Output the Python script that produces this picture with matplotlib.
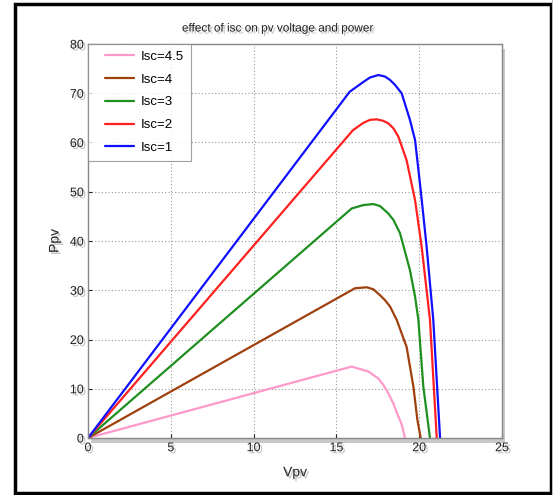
import matplotlib
matplotlib.use("Agg")
import matplotlib.pyplot as plt
import matplotlib.patheffects as pe
from matplotlib.patches import Rectangle
from matplotlib.legend_handler import HandlerLine2D

# Data (Vpv, Ppv)
v_isc45 = [0, 15.92, 16.93, 17.53, 17.83, 18.13, 18.44, 18.64, 18.94, 19.14]
p_isc45 = [0, 14.5, 13.5, 12.1, 10.8, 9.1, 7.0, 5.2, 2.8, 0]

v_isc4 = [0, 16.12, 16.83, 17.23, 17.63, 17.93, 18.24, 18.64, 19.24, 19.65, 19.89, 20.09]
p_isc4 = [0, 30.4, 30.6, 30.2, 29.0, 28.0, 26.7, 24.0, 18.5, 10.4, 3.7, 0]

v_isc3 = [0, 15.92, 16.63, 17.23, 17.63, 18.13, 18.44, 18.84, 19.44, 19.75, 19.95, 20.25, 20.65]
p_isc3 = [0, 46.6, 47.3, 47.5, 47.1, 45.6, 44.3, 41.6, 34.1, 28.7, 24.0, 10.4, 0]

v_isc2 = [0, 16.0, 16.63, 17.03, 17.43, 17.83, 18.13, 18.44, 18.74, 19.24, 19.75, 20.15, 20.65, 21.06]
p_isc2 = [0, 62.5, 64.0, 64.6, 64.7, 64.4, 63.9, 62.9, 61.2, 56.4, 48.3, 38.8, 24.0, 0]

v_isc1 = [0, 15.8, 16.63, 17.03, 17.53, 17.93, 18.24, 18.54, 18.94, 19.44, 19.75, 20.1, 20.45, 20.85, 21.26]
p_isc1 = [0, 70.3, 72.3, 73.2, 73.7, 73.4, 72.7, 71.7, 70.0, 64.6, 60.5, 50.0, 38.8, 24.0, 0]

labels = ["Isc=4.5", "Isc=4", "Isc=3", "Isc=2", "Isc=1"]
colors = ["#ff99cc", "#a0400f", "#1f8f1f", "#ff2020", "#1010ff"]

x_ticks = [0, 5, 10, 15, 20, 25]
y_ticks = [0, 10, 20, 30, 40, 50, 60, 70, 80]

plt.rcParams['font.family'] = ['Liberation Sans', 'DejaVu Sans']


class ShortLineHandler(HandlerLine2D):
    def create_artists(self, legend, orig_handle, xdescent, ydescent,
                       width, height, fontsize, trans):
        arts = super().create_artists(legend, orig_handle, xdescent, ydescent,
                                      width, height, fontsize, trans)
        line = arts[0]
        xd = list(line.get_xdata())
        yd = list(line.get_ydata())
        x0, x1 = xd[0], xd[-1]
        line.set_data([x0 + 0.27 * (x1 - x0), x1], [yd[0], yd[0]])
        return arts


fig = plt.figure(figsize=(5.53, 4.95), dpi=100)
fig.patch.set_facecolor("white")

# outer frame
fig.patches.append(Rectangle((15 / 553, 1 - 493 / 495), (551 - 15) / 553, (493 - 4) / 495,
                             transform=fig.transFigure, fill=False,
                             edgecolor="black", linewidth=2.5, zorder=0))
fig.patches.append(Rectangle((551.5 / 553, 0), 1.5 / 553, 1,
                             transform=fig.transFigure, facecolor="#bbbbbb",
                             edgecolor="none", zorder=0))

ax = fig.add_axes([88 / 553, 1 - 438 / 495, (502 - 88) / 553, (438 - 44) / 495])

shadow = [pe.SimplePatchShadow(offset=(1.5, -1.5), alpha=0.25), pe.Normal()]

series = [(v_isc45, p_isc45), (v_isc4, p_isc4), (v_isc3, p_isc3),
          (v_isc2, p_isc2), (v_isc1, p_isc1)]
for (v, p), lab, c in zip(series, labels, colors):
    ax.plot(v, p, color=c, linewidth=1.6, label=lab,
            solid_joinstyle="round", solid_capstyle="round")

ax.set_xlim(0, 25)
ax.set_ylim(0, 80)
ax.set_xticks(x_ticks)
ax.set_yticks(y_ticks)
ax.tick_params(direction="in", length=3, labelsize=9, colors="#222222", pad=3)
for lbl in ax.get_xticklabels() + ax.get_yticklabels():
    lbl.set_path_effects(shadow)
ax.grid(True, linestyle=(0, (1, 2)), color="#999999", linewidth=0.8)
for s in ax.spines.values():
    s.set_color("#888888")
    s.set_linewidth(1.0)

# axes shadow
ax.add_patch(Rectangle((1.0, -0.012), 0.008, 1.0, transform=ax.transAxes,
                       facecolor="#c8c8c8", edgecolor="none", clip_on=False, zorder=0))
ax.add_patch(Rectangle((0.008, -0.012), 1.0, 0.012, transform=ax.transAxes,
                       facecolor="#c8c8c8", edgecolor="none", clip_on=False, zorder=0))

t = ax.set_title("effect of isc on pv voltage and power", fontsize=8.5, pad=9,
                 color="#222222", x=0.457)
t.set_path_effects(shadow)
xl = ax.set_xlabel("Vpv", fontsize=10, labelpad=8, color="#222222")
xl.set_path_effects(shadow)
yl = ax.set_ylabel("Ppv", fontsize=10, labelpad=6, color="#222222")
yl.set_path_effects(shadow)

leg = ax.legend(loc="upper left", fontsize=9.5, frameon=True, fancybox=False,
                edgecolor="#888888", borderaxespad=0.0, handlelength=3.0,
                labelspacing=0.8, borderpad=0.5, handletextpad=0.5,
                handler_map={matplotlib.lines.Line2D: ShortLineHandler()})
leg.get_frame().set_linewidth(0.8)

fig.savefig("out.png", dpi=100, facecolor="white")
